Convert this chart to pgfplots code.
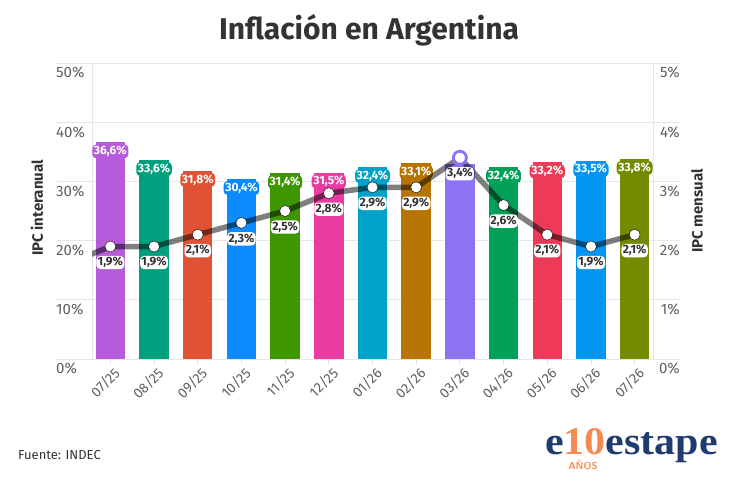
\documentclass[border=0pt]{standalone}
\usepackage{pgfplots}
\pgfplotsset{compat=1.18}
\usepackage{fontspec}
\setmainfont{Fira Sans}
\newfontfamily\logofont{Liberation Serif}
\definecolor{c0}{HTML}{B65BDC}
\definecolor{c1}{HTML}{00A07E}
\definecolor{c2}{HTML}{E05233}
\definecolor{c3}{HTML}{0B8BFF}
\definecolor{c4}{HTML}{3E9600}
\definecolor{c5}{HTML}{E83CA3}
\definecolor{c6}{HTML}{00A2C8}
\definecolor{c7}{HTML}{B87400}
\definecolor{c8}{HTML}{8E72F6}
\definecolor{c9}{HTML}{00A057}
\definecolor{c10}{HTML}{EE3A58}
\definecolor{c11}{HTML}{0296F2}
\definecolor{c12}{HTML}{758A00}
\definecolor{txt}{HTML}{333333}
\definecolor{tick}{HTML}{5F5F5F}
\definecolor{gridc}{HTML}{E6E6E6}
\definecolor{navy}{HTML}{1F3B6F}
\definecolor{logoor}{HTML}{F58A4F}
\pgfkeys{/pgf/number format/assume math mode=true}
\pgfplotsset{
  bl/.style={fill=#1, draw=none,
    nodes near coords={\pgfmathprintnumber[use comma,fixed,fixed zerofill,precision=1]{\pgfplotspointmeta}\%},
    every node near coord/.append style={fill=#1}},
}
\begin{document}
\begin{tikzpicture}
\useasboundingbox (0,0) rectangle (742pt,493pt);
% grid lines
\foreach \k in {0,...,5} {
  \draw[gridc, line width=0.8pt] (57pt,{134pt+\k*59.2pt}) -- (680pt,{134pt+\k*59.2pt});
}
\draw[gridc, line width=0.8pt] (92pt,134pt) -- (92pt,430pt);
\draw[gridc, line width=0.8pt] (653pt,134pt) -- (653pt,430pt);
% titles
\node[anchor=base, font=\bfseries\fontsize{30}{30}\selectfont, text=txt] at (369pt,453pt) {Inflación en Argentina};
\node[rotate=90, font=\bfseries\fontsize{15}{15}\selectfont, text=txt] at (37pt,285pt) {IPC interanual};
\node[rotate=90, font=\bfseries\fontsize{15}{15}\selectfont, text=txt] at (697pt,282pt) {IPC mensual};
\node[anchor=base west, font=\fontsize{13}{13}\selectfont, text=txt, inner sep=0pt] at (18pt,34pt) {Fuente: INDEC};
% logo
\node[anchor=base west, inner sep=0pt] at (545pt,38pt) {\scalebox{1.4}[1.3]{\logofont\bfseries\fontsize{30}{30}\selectfont\textcolor{navy}{e}\textcolor{logoor}{10}\textcolor{navy}{estape}}};
\node[font=\sffamily\bfseries\fontsize{10}{10}\selectfont, text=logoor] at (583pt,28pt) {AÑOS};
% bars
\begin{axis}[
  at={(92pt,134pt)}, anchor=south west,
  scale only axis, width=561pt, height=296pt,
  xmin=-0.42, xmax=12.42, ymin=0, ymax=50,
  axis line style={draw=none},
  ybar, bar width=29.5pt, bar shift=0pt,
  xtick={0,...,12},
  xticklabels={07/25,08/25,09/25,10/25,11/25,12/25,01/26,02/26,03/26,04/26,05/26,06/26,07/26},
  xtick pos=lower, ytick pos=left,
  tick align=outside, major tick length=6pt,
  xtick style={draw=gridc, line width=0.8pt},
  ytick style={draw=none},
  ytick={0,10,...,50},
  yticklabel={\pgfmathprintnumber[fixed,precision=0]{\tick}\%},
  yticklabel style={anchor=north west, xshift=-30pt, yshift=-4pt, inner sep=0pt, text=tick, font=\fontsize{15}{15}\selectfont},
  xticklabel style={rotate=45, anchor=east, inner sep=0pt, xshift=1pt, yshift=-9pt, text=tick, font=\fontsize{14}{14}\selectfont},
  every node near coord/.append style={anchor=center, yshift=-9pt, text=white, font=\bfseries\fontsize{12}{12}\selectfont, inner sep=1.6pt, rounded corners=4pt},
]
\addplot[bl=c0] coordinates {(0,36.6)};
\addplot[bl=c1] coordinates {(1,33.6)};
\addplot[bl=c2] coordinates {(2,31.8)};
\addplot[bl=c3] coordinates {(3,30.4)};
\addplot[bl=c4] coordinates {(4,31.4)};
\addplot[bl=c5] coordinates {(5,31.5)};
\addplot[bl=c6] coordinates {(6,32.4)};
\addplot[bl=c7] coordinates {(7,33.1)};
\addplot[fill=c8, draw=none] coordinates {(8,32.9)};
\addplot[bl=c9] coordinates {(9,32.4)};
\addplot[bl=c10] coordinates {(10,33.2)};
\addplot[bl=c11] coordinates {(11,33.5)};
\addplot[bl=c12] coordinates {(12,33.8)};
\end{axis}
% line
\begin{axis}[
  at={(92pt,134pt)}, anchor=south west,
  scale only axis, width=561pt, height=296pt,
  xmin=-0.42, xmax=12.42, ymin=0, ymax=5,
  axis line style={draw=none},
  xtick=\empty,
  ytick={0,...,5}, ytick pos=right, ytick style={draw=none},
  yticklabel={\pgfmathprintnumber[fixed,precision=0]{\tick}\%},
  yticklabel style={anchor=north east, xshift=27pt, yshift=-4pt, inner sep=0pt, text=tick, font=\fontsize{15}{15}\selectfont},
]
\addplot[black, opacity=0.5, line width=5.5pt, line join=round] coordinates {
  (-1,1.6) (0,1.9) (1,1.9) (2,2.1) (3,2.3) (4,2.5) (5,2.8) (6,2.9) (7,2.9) (8,3.4) (9,2.6) (10,2.1) (11,1.9) (12,2.1)};
\addplot[only marks, mark=*, mark size=5.5pt, mark options={fill=white, draw=none}] coordinates {
  (0,1.9) (1,1.9) (2,2.1) (3,2.3) (4,2.5) (5,2.8) (6,2.9) (7,2.9) (9,2.6) (10,2.1) (11,1.9) (12,2.1)};
\addplot[only marks, mark=*, mark size=6.5pt, mark options={fill=white, draw=c8, line width=2.8pt}] coordinates {(8,3.4)};
\addplot[draw=none, mark=none,
  nodes near coords={\pgfmathprintnumber[use comma,fixed,fixed zerofill,precision=1]{\pgfplotspointmeta}\%},
  every node near coord/.append style={anchor=center, yshift=-16pt, text=txt, fill=white, rounded corners=4pt, font=\bfseries\fontsize{12}{12}\selectfont, inner sep=1.3pt},
] coordinates {
  (0,1.9) (1,1.9) (2,2.1) (3,2.3) (4,2.5) (5,2.8) (6,2.9) (7,2.9) (8,3.4) (9,2.6) (10,2.1) (11,1.9) (12,2.1)};
\end{axis}
\end{tikzpicture}
\end{document}
